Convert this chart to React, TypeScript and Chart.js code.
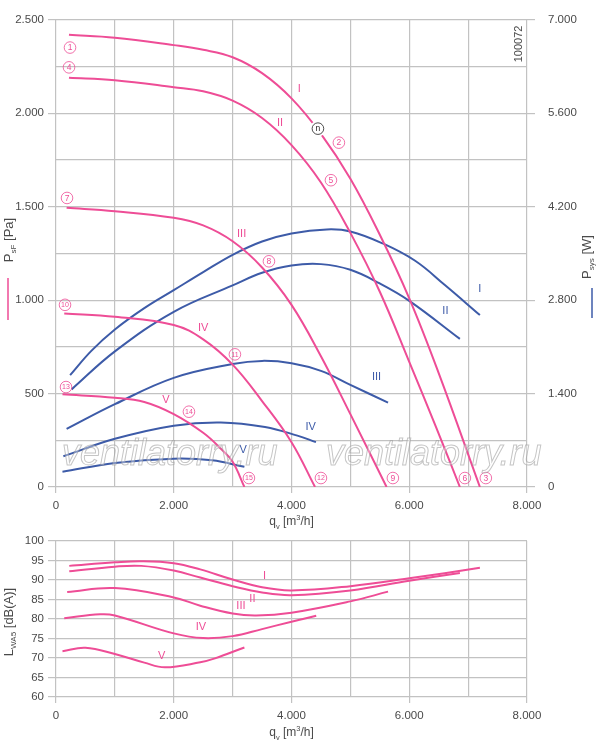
import React, { useEffect, useRef } from "react";
import { Chart, registerables } from "chart.js";

Chart.register(...registerables);

const FONT = '"Liberation Sans", Arial, sans-serif';
const PINK = "#ee4d96";
const BLUE = "#3d5ba8";
const GRID = "#c2c2c2";
const TEXT = "#4a4a4a";

// static pressure p_sF [Pa] over flow q_v [m3/h]
const flowP1 = [220, 1000, 2000, 2500, 3000, 3500, 4000, 4500, 5000, 5500, 6000, 6500, 7200];
const pressP1 = [2420, 2405, 2365, 2340, 2300, 2215, 2080, 1890, 1650, 1350, 1010, 610, 0];
const flowP2 = [220, 1000, 2000, 2500, 3000, 3500, 4000, 4500, 5000, 5500, 6000, 6450, 6860];
const pressP2 = [2190, 2177, 2140, 2118, 2068, 1975, 1830, 1630, 1360, 1045, 670, 325, 0];
const flowP3 = [180, 1000, 2000, 2500, 3000, 3500, 4000, 4500, 5000, 5615];
const pressP3 = [1494, 1476, 1441, 1400, 1315, 1175, 975, 700, 390, 0];
const flowP4 = [140, 1000, 2000, 2500, 3000, 3500, 4000, 4400];
const pressP4 = [929, 911, 867, 790, 655, 460, 240, 0];
const flowP5 = [110, 1000, 1500, 2000, 2500, 2800, 3000, 3200];
const pressP5 = [496, 478, 455, 390, 290, 205, 135, 0];

// power input P_sys [W]
const flowW1 = [240, 600, 1000, 1500, 2000, 2500, 3000, 3500, 4000, 4600, 5000, 5550, 6100, 6600, 7200];
const powerW1 = [1676, 2040, 2360, 2680, 2950, 3220, 3480, 3680, 3800, 3860, 3830, 3650, 3390, 3030, 2576];
const flowW2 = [265, 1000, 2000, 3000, 3500, 4000, 4500, 5000, 5500, 6000, 6860];
const powerW2 = [1463, 2032, 2625, 3021, 3210, 3320, 3340, 3255, 3050, 2790, 2220];
const flowW3 = [180, 1000, 2000, 3000, 3500, 4000, 4500, 5000, 5640];
const powerW3 = [870, 1241, 1636, 1843, 1890, 1855, 1740, 1530, 1265];
const flowW4 = [125, 1000, 2000, 2800, 3550, 4100, 4415];
const powerW4 = [460, 722, 919, 968, 900, 770, 672];
const flowW5 = [110, 1000, 2000, 2650, 3200];
const powerW5 = [227, 361, 425, 400, 302];

// sound power L_WA5 [dB(A)]
const flowL1 = [225, 1000, 1450, 2000, 2450, 3000, 3500, 4000, 5000, 6000, 7200];
const levelL1 = [93.6, 94.5, 94.8, 94.3, 92.7, 90.1, 88.1, 87.3, 88.4, 90.4, 93.1];
const flowL2 = [225, 1000, 1450, 2000, 2450, 3000, 3500, 4000, 5000, 6000, 6860];
const levelL2 = [92.2, 93.4, 93.6, 92.4, 90.6, 88.4, 86.8, 86.1, 87.3, 89.8, 91.8];
const flowL3 = [190, 1000, 2000, 2450, 3000, 3400, 4000, 5000, 5640];
const levelL3 = [86.9, 87.9, 85.5, 83.4, 81.4, 80.9, 81.6, 84.5, 87.0];
const flowL4 = [140, 750, 1000, 2000, 2500, 3000, 3500, 4000, 4420];
const levelL4 = [80.2, 81.2, 80.9, 76.3, 75.1, 75.6, 77.4, 79.3, 80.8];
const flowL5 = [110, 500, 1000, 1500, 1850, 2450, 2700, 3200];
const levelL5 = [71.7, 72.6, 71.0, 68.8, 67.6, 68.9, 69.9, 72.7];

// circled operating point marks (flow, pressure)
const markText = ["1", "4", "7", "10", "13", "2", "5", "8", "11", "14", "15", "12", "9", "6", "3"];
const markFlow = [238, 221, 187, 153, 170, 4805, 4670, 3617, 3039, 2258, 3277, 4500, 5722, 6945, 7301];
const markPress = [2352, 2246, 1547, 975, 535, 1843, 1642, 1208, 710, 403, 48, 48, 48, 48, 48];
const optimumText = "n";
const optimumFlow = 4449;
const optimumPress = 1918;

// curve names
const romans = ["I", "II", "III", "IV", "V"];
const pressLabelFlow = [4132, 3804, 3153, 2501, 1868];
const pressLabelValue = [2129, 1949, 1356, 849, 466];
const powerLabelFlow = [7200, 6614, 5445, 4325, 3180];
const powerLabelValue = [2965, 2635, 1646, 904, 549];
const soundLabelFlow = [3540, 3336, 3141, 2462, 1794];
const soundLabelValue = [90.9, 85.0, 83.3, 77.9, 70.5];

const pressureTicks = [0, 2500, 250];
const powerTicks = [0, 7000, 1400];
const flowTicks = [0, 8000, 1000];
const soundTicks = [60, 100, 5];

const fmt = (v: number) => String(v).replace(/\B(?=(\d{3})+(?!\d))/g, ".");
const pts = (xs: number[], ys: number[]) => xs.map((x, i) => ({ x, y: ys[i] }));

type Part = { t: string; k?: "sub" | "sup" };

function drawRich(ctx: CanvasRenderingContext2D, parts: Part[], cx: number, cy: number, size: number, rotated: boolean) {
  ctx.save();
  ctx.translate(cx, cy);
  if (rotated) ctx.rotate(-Math.PI / 2);
  const small = size * 0.62;
  const widths = parts.map((p) => {
    ctx.font = `${p.k ? small : size}px ${FONT}`;
    return ctx.measureText(p.t).width;
  });
  let xx = -widths.reduce((a, b) => a + b, 0) / 2;
  ctx.fillStyle = TEXT;
  ctx.textAlign = "left";
  ctx.textBaseline = "middle";
  parts.forEach((p, i) => {
    ctx.font = `${p.k ? small : size}px ${FONT}`;
    const dy = p.k === "sub" ? size * 0.38 : p.k === "sup" ? -size * 0.32 : 0;
    ctx.fillText(p.t, xx, dy);
    xx += widths[i];
  });
  ctx.restore();
}

function circled(ctx: CanvasRenderingContext2D, text: string, x: number, y: number, color: string, white: boolean) {
  ctx.save();
  if (white) {
    ctx.fillStyle = "#fff";
    ctx.beginPath();
    ctx.arc(x, y, 8, 0, Math.PI * 2);
    ctx.fill();
  }
  ctx.beginPath();
  ctx.arc(x, y, 5.8, 0, Math.PI * 2);
  ctx.strokeStyle = color;
  ctx.lineWidth = 0.8;
  ctx.stroke();
  ctx.fillStyle = color;
  ctx.font = `${text.length > 1 ? 7 : 8.5}px ${FONT}`;
  ctx.textAlign = "center";
  ctx.textBaseline = "middle";
  ctx.fillText(text, x, y + 0.5);
  ctx.restore();
}

const tickFont = { family: FONT, size: 11.5 };

const topDecor = {
  id: "topDecor",
  afterDraw(chart: any) {
    const { ctx, chartArea } = chart;
    const { x, y, y2 } = chart.scales;
    ctx.save();
    markText.forEach((t, i) =>
      circled(ctx, t, x.getPixelForValue(markFlow[i]), y.getPixelForValue(markPress[i]), PINK, false)
    );
    circled(ctx, optimumText, x.getPixelForValue(optimumFlow), y.getPixelForValue(optimumPress), "#222", true);

    ctx.font = `11px ${FONT}`;
    ctx.textAlign = "center";
    ctx.textBaseline = "middle";
    romans.forEach((r, i) => {
      ctx.fillStyle = PINK;
      ctx.fillText(r, x.getPixelForValue(pressLabelFlow[i]), y.getPixelForValue(pressLabelValue[i]));
      ctx.fillStyle = BLUE;
      ctx.fillText(r, x.getPixelForValue(powerLabelFlow[i]), y2.getPixelForValue(powerLabelValue[i]));
    });

    // drawing number
    ctx.save();
    ctx.translate(chartArea.right - 8, chartArea.top + 24);
    ctx.rotate(-Math.PI / 2);
    ctx.fillStyle = TEXT;
    ctx.font = `11px ${FONT}`;
    ctx.fillText("100072", 0, 0);
    ctx.restore();

    // watermark
    ctx.font = `italic 36px ${FONT}`;
    ctx.textAlign = "left";
    ctx.textBaseline = "alphabetic";
    ctx.lineWidth = 1;
    ctx.strokeStyle = "rgba(150,150,150,0.55)";
    ctx.fillStyle = "rgba(255,255,255,0.35)";
    [chartArea.left + 6, chartArea.left + 270].forEach((wx) => {
      ctx.fillText("ventilatorry.ru", wx, chartArea.bottom - 22);
      ctx.strokeText("ventilatorry.ru", wx, chartArea.bottom - 22);
    });

    // axis titles and legend strokes
    const midX = (chartArea.left + chartArea.right) / 2;
    drawRich(ctx, [{ t: "q" }, { t: "v", k: "sub" }, { t: " [m" }, { t: "3", k: "sup" }, { t: "/h]" }], midX, chartArea.bottom + 35, 12, false);
    drawRich(ctx, [{ t: "P" }, { t: "sF", k: "sub" }, { t: " [Pa]" }], 9, 240, 13, true);
    drawRich(ctx, [{ t: "P" }, { t: "sys", k: "sub" }, { t: " [W]" }], 587, 257, 13, true);
    ctx.lineWidth = 1.5;
    ctx.strokeStyle = PINK;
    ctx.beginPath();
    ctx.moveTo(8, 278);
    ctx.lineTo(8, 320);
    ctx.stroke();
    ctx.strokeStyle = BLUE;
    ctx.beginPath();
    ctx.moveTo(592, 288);
    ctx.lineTo(592, 318);
    ctx.stroke();
    ctx.restore();
  },
};

const bottomDecor = {
  id: "bottomDecor",
  afterDraw(chart: any) {
    const { ctx, chartArea } = chart;
    const { x, y } = chart.scales;
    ctx.save();
    ctx.font = `11px ${FONT}`;
    ctx.textAlign = "center";
    ctx.textBaseline = "middle";
    ctx.fillStyle = PINK;
    romans.forEach((r, i) => {
      ctx.fillText(r, x.getPixelForValue(soundLabelFlow[i]), y.getPixelForValue(soundLabelValue[i]));
    });
    const midX = (chartArea.left + chartArea.right) / 2;
    drawRich(ctx, [{ t: "q" }, { t: "v", k: "sub" }, { t: " [m" }, { t: "3", k: "sup" }, { t: "/h]" }], midX, chartArea.bottom + 36, 12, false);
    drawRich(ctx, [{ t: "L" }, { t: "WA5", k: "sub" }, { t: " [dB(A)]" }], 9, 92, 13, true);
    ctx.restore();
  },
};

const flowScale = (height: number) => ({
  type: "linear" as const,
  min: flowTicks[0],
  max: flowTicks[1],
  ticks: {
    stepSize: flowTicks[2],
    autoSkip: false,
    maxRotation: 0,
    padding: 6,
    color: TEXT,
    font: tickFont,
    callback: (v: any) => (v % 2000 === 0 ? fmt(v) : ""),
  },
  grid: {
    color: GRID,
    lineWidth: 1.2,
    tickLength: 6,
    tickColor: (c: any) => (c.tick && c.tick.value % 2000 === 0 ? GRID : "rgba(0,0,0,0)"),
  },
  border: { display: false },
  afterFit: (s: any) => {
    s.height = height;
  },
});

const line = (data: { x: number; y: number }[], color: string, axis: string) => ({
  data,
  borderColor: color,
  borderWidth: 2,
  pointRadius: 0,
  fill: false,
  tension: 0.4,
  yAxisID: axis,
});

const App: React.FC = () => {
  const topRef = useRef<HTMLCanvasElement>(null);
  const bottomRef = useRef<HTMLCanvasElement>(null);

  useEffect(() => {
    if (!topRef.current || !bottomRef.current) return;

    const top = new Chart(topRef.current, {
      type: "line",
      data: {
        datasets: [
          line(pts(flowP1, pressP1), PINK, "y"),
          line(pts(flowP2, pressP2), PINK, "y"),
          line(pts(flowP3, pressP3), PINK, "y"),
          line(pts(flowP4, pressP4), PINK, "y"),
          line(pts(flowP5, pressP5), PINK, "y"),
          line(pts(flowW1, powerW1), BLUE, "y2"),
          line(pts(flowW2, powerW2), BLUE, "y2"),
          line(pts(flowW3, powerW3), BLUE, "y2"),
          line(pts(flowW4, powerW4), BLUE, "y2"),
          line(pts(flowW5, powerW5), BLUE, "y2"),
        ],
      },
      options: {
        animation: false,
        responsive: false,
        layout: { padding: { top: 15, left: 0, right: 0, bottom: 0 } },
        plugins: { legend: { display: false }, tooltip: { enabled: false } },
        scales: {
          x: flowScale(43),
          y: {
            position: "left",
            min: pressureTicks[0],
            max: pressureTicks[1],
            ticks: {
              stepSize: pressureTicks[2],
              autoSkip: false,
              padding: 4,
              color: TEXT,
              font: tickFont,
              callback: (v: any) => (v % 500 === 0 ? fmt(v) : ""),
            },
            grid: {
              color: GRID,
              lineWidth: 1.2,
              tickLength: 8,
              tickColor: (c: any) => (c.tick && c.tick.value % 500 === 0 ? GRID : "rgba(0,0,0,0)"),
            },
            border: { display: false },
            afterFit: (s: any) => {
              s.width = 56;
            },
          },
          y2: {
            position: "right",
            min: powerTicks[0],
            max: powerTicks[1],
            ticks: {
              stepSize: powerTicks[2],
              autoSkip: false,
              padding: 13,
              color: TEXT,
              font: tickFont,
              callback: (v: any) => fmt(v),
            },
            grid: { drawOnChartArea: false, color: GRID, lineWidth: 1.2, tickLength: 8 },
            border: { display: false },
            afterFit: (s: any) => {
              s.width = 73;
            },
          },
        },
      },
      plugins: [topDecor],
    } as any);

    const bottom = new Chart(bottomRef.current, {
      type: "line",
      data: {
        datasets: [
          line(pts(flowL1, levelL1), PINK, "y"),
          line(pts(flowL2, levelL2), PINK, "y"),
          line(pts(flowL3, levelL3), PINK, "y"),
          line(pts(flowL4, levelL4), PINK, "y"),
          line(pts(flowL5, levelL5), PINK, "y"),
        ],
      },
      options: {
        animation: false,
        responsive: false,
        layout: { padding: { top: 10, left: 0, right: 73, bottom: 0 } },
        plugins: { legend: { display: false }, tooltip: { enabled: false } },
        scales: {
          x: flowScale(50),
          y: {
            position: "left",
            min: soundTicks[0],
            max: soundTicks[1],
            ticks: {
              stepSize: soundTicks[2],
              autoSkip: false,
              padding: 4,
              color: TEXT,
              font: tickFont,
            },
            grid: { color: GRID, lineWidth: 1.2, tickLength: 8 },
            border: { display: false },
            afterFit: (s: any) => {
              s.width = 56;
            },
          },
        },
      },
      plugins: [bottomDecor],
    } as any);

    return () => {
      top.destroy();
      bottom.destroy();
    };
  }, []);

  return (
    <div style={{ position: "absolute", left: 0, top: 0, width: 600, height: 747, background: "#fff" }}>
      <canvas ref={topRef} width={600} height={530} style={{ position: "absolute", left: 0, top: 0 }} />
      <canvas ref={bottomRef} width={600} height={217} style={{ position: "absolute", left: 0, top: 530 }} />
    </div>
  );
};

export default App;
